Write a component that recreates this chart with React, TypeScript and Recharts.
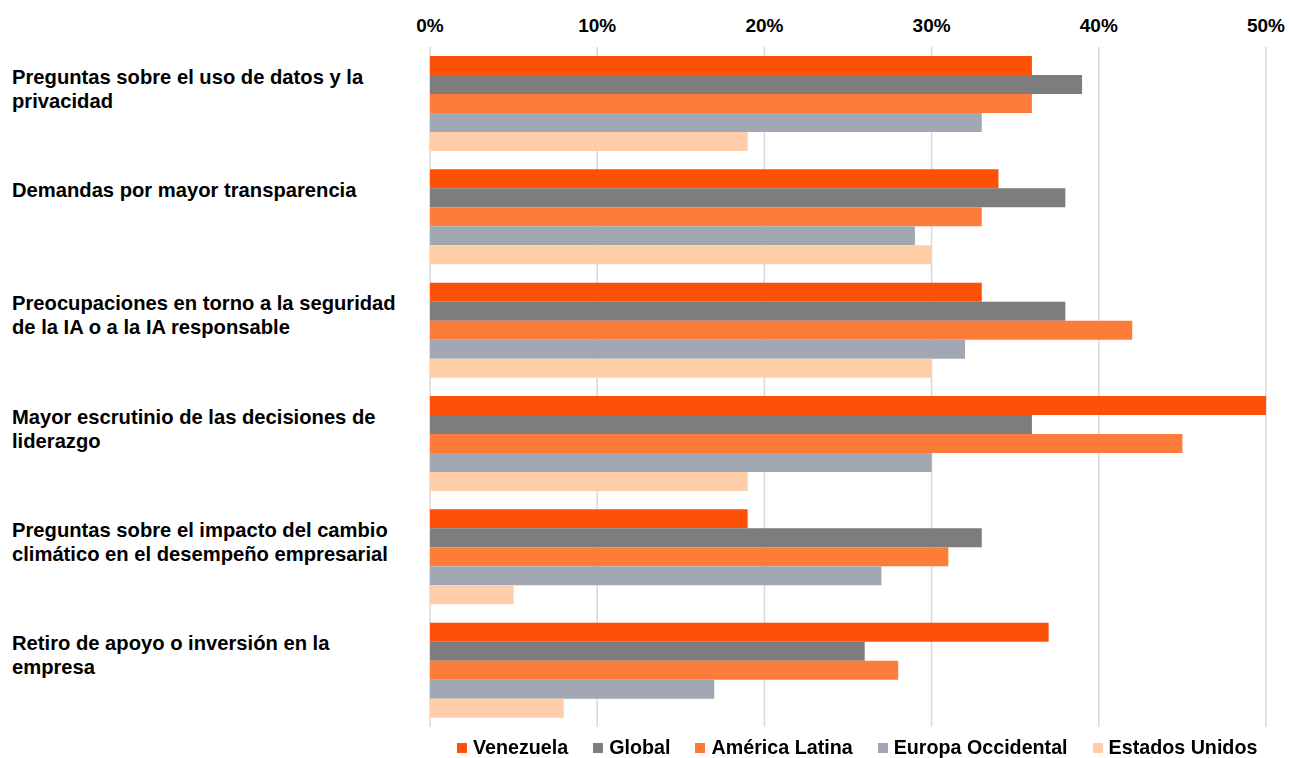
import { BarChart, Bar, XAxis, YAxis, CartesianGrid, Legend } from "recharts";

const CATEGORIES = [
  "Preguntas sobre el uso de datos y la\nprivacidad",
  "Demandas por mayor transparencia",
  "Preocupaciones en torno a la seguridad\nde la IA o a la IA responsable",
  "Mayor escrutinio de las decisiones de\nliderazgo",
  "Preguntas sobre el impacto del cambio\nclimático en el desempeño empresarial",
  "Retiro de apoyo o inversión en la\nempresa",
];

const VENEZUELA = [0.36, 0.34, 0.33, 0.5, 0.19, 0.37];
const GLOBAL = [0.39, 0.38, 0.38, 0.36, 0.33, 0.26];
const AMERICA_LATINA = [0.36, 0.33, 0.42, 0.45, 0.31, 0.28];
const EUROPA_OCCIDENTAL = [0.33, 0.29, 0.32, 0.3, 0.27, 0.17];
const ESTADOS_UNIDOS = [0.19, 0.3, 0.3, 0.19, 0.05, 0.08];

const X_TICKS = [0, 0.1, 0.2, 0.3, 0.4, 0.5];

const SERIES = [
  { key: "venezuela", name: "Venezuela", color: "#FD5108", values: VENEZUELA },
  { key: "global", name: "Global", color: "#7D7D7D", values: GLOBAL },
  { key: "al", name: "América Latina", color: "#FE7C39", values: AMERICA_LATINA },
  { key: "eo", name: "Europa Occidental", color: "#A1A8B3", values: EUROPA_OCCIDENTAL },
  { key: "eu", name: "Estados Unidos", color: "#FFCDA8", values: ESTADOS_UNIDOS },
];

const data = CATEGORIES.map((name, i) => {
  const row: any = { name };
  SERIES.forEach((s) => (row[s.key] = s.values[i]));
  return row;
});

const FONT = "'Liberation Sans', Arial, sans-serif";

const CategoryTick = ({ y, payload }: any) => {
  const lines = String(payload.value).split("\n");
  return (
    <text x={12} y={y - 27} fontFamily={FONT} fontSize={20.2} fontWeight="bold" fill="#000" textAnchor="start">
      {lines.map((line, i) => (
        <tspan key={i} x={12} dy={i === 0 ? "0.35em" : 24}>
          {line}
        </tspan>
      ))}
    </text>
  );
};

const PercentTick = ({ x, y, payload }: any) => (
  <text x={x} y={y - 22} dy="0.35em" fontFamily={FONT} fontSize={19} fontWeight="bold" fill="#000" textAnchor="middle">
    {`${Math.round(payload.value * 100)}%`}
  </text>
);

const LegendContent = () => (
  <div
    style={{
      display: "flex",
      justifyContent: "flex-start",
      paddingLeft: 457,
      paddingTop: 9,
      fontFamily: FONT,
      fontSize: 19.7,
      fontWeight: "bold",
      color: "#000",
      whiteSpace: "nowrap",
      width: 1292,
      boxSizing: "border-box",
    }}
  >
    {SERIES.map((s) => (
      <div key={s.key} style={{ display: "flex", alignItems: "center", marginRight: 25, flexShrink: 0 }}>
        <div style={{ width: 10, height: 10, background: s.color, marginRight: 6 }} />
        <span>{s.name}</span>
      </div>
    ))}
  </div>
);

export default function App() {
  return (
    <div style={{ position: "fixed", left: 0, top: 0, background: "#fff" }}>
      <BarChart
        width={1292}
        height={758}
        data={data}
        layout="vertical"
        margin={{ top: 0, right: 26, bottom: 0, left: 0 }}
        barCategoryGap={9}
        barGap={0}
      >
        <CartesianGrid horizontal={false} stroke="#D9D9D9" strokeWidth={1.5} />
        <XAxis
          type="number"
          orientation="top"
          domain={[0, 0.5]}
          ticks={X_TICKS}
          height={47}
          axisLine={false}
          tickLine={false}
          tickSize={0}
          tickMargin={0}
          tick={<PercentTick />}
          interval={0}
        />
        <YAxis
          type="category"
          dataKey="name"
          width={430}
          axisLine={false}
          tickLine={false}
          tick={<CategoryTick />}
          interval={0}
        />
        <Legend
          verticalAlign="bottom"
          height={31}
          content={<LegendContent />}
          wrapperStyle={{ left: 0, width: 1292 }}
        />
        {SERIES.map((s) => (
          <Bar key={s.key} dataKey={s.key} name={s.name} fill={s.color} isAnimationActive={false} />
        ))}
      </BarChart>
    </div>
  );
}
